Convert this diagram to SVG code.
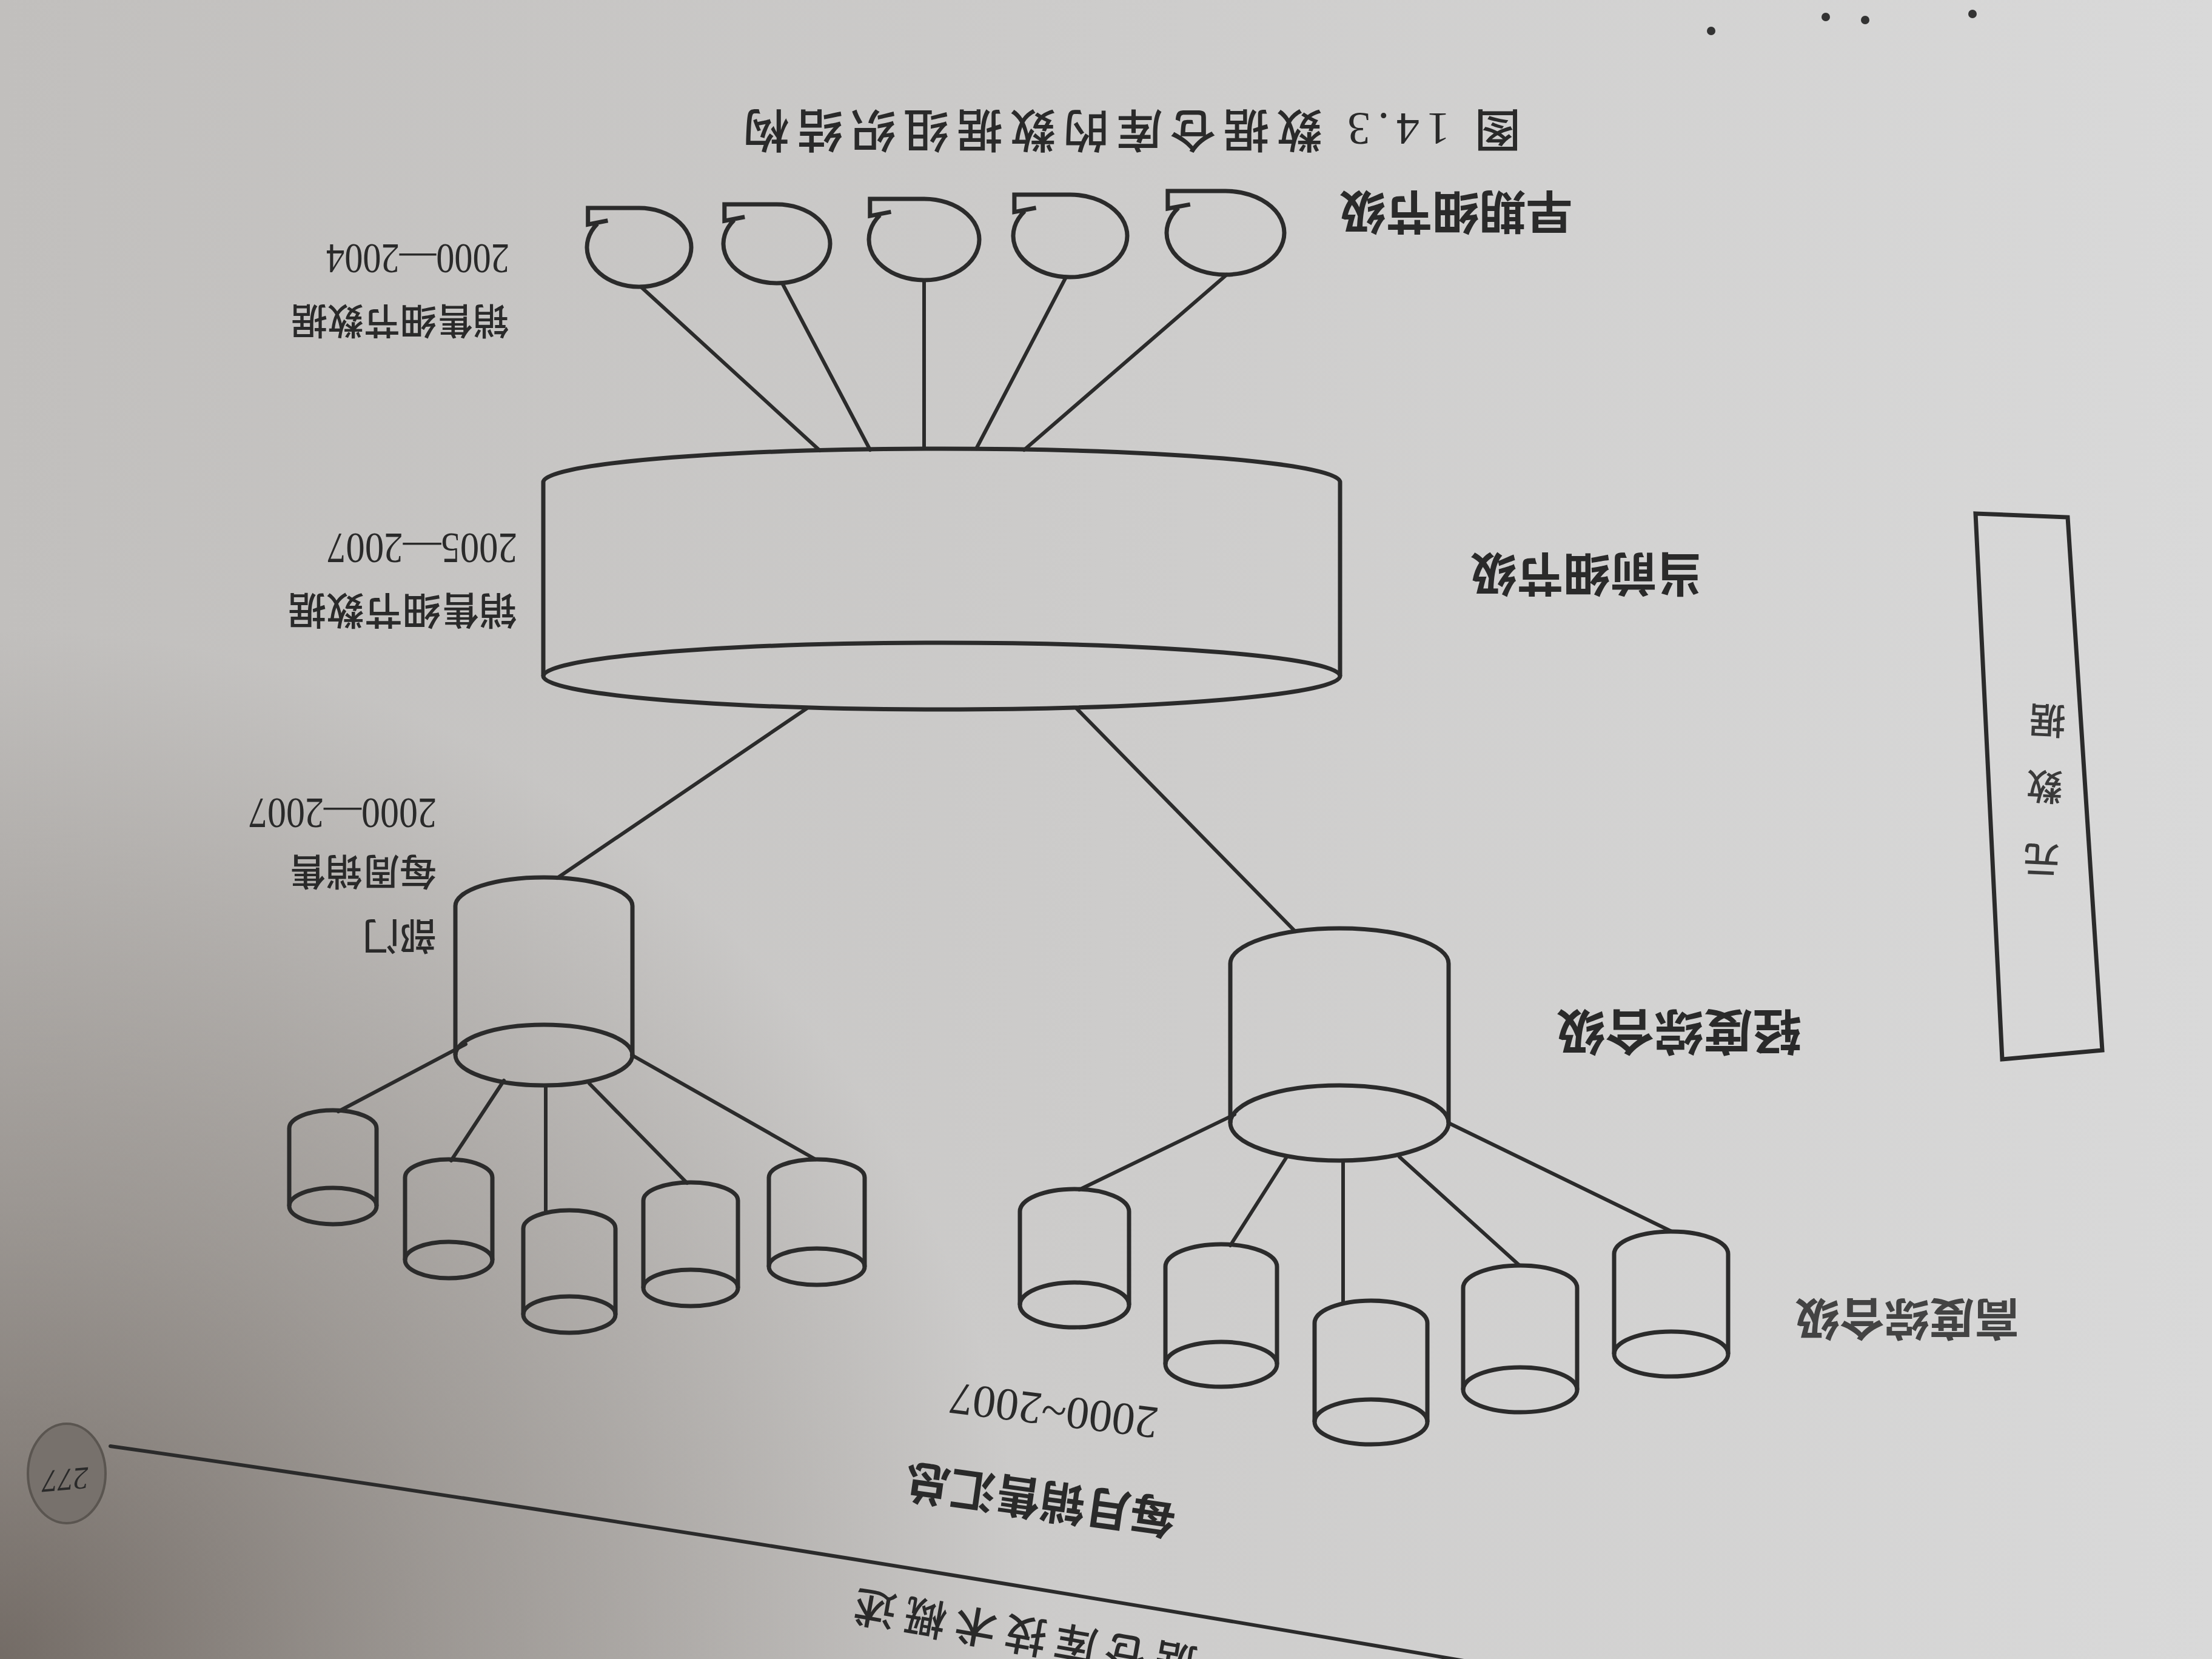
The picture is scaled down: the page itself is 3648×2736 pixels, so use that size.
<svg xmlns="http://www.w3.org/2000/svg" width="3648" height="2736" viewBox="0 0 3648 2736">
<defs>
<linearGradient id="bg" x1="0" y1="0" x2="1" y2="0">
<stop offset="0" stop-color="#c1bfbd"/>
<stop offset="0.5" stop-color="#cdcccb"/>
<stop offset="1" stop-color="#d9d9d9"/>
</linearGradient>
<radialGradient id="shade" gradientUnits="userSpaceOnUse" cx="0" cy="2736" r="1700">
<stop offset="0" stop-color="#6f6761" stop-opacity="0.95"/>
<stop offset="0.45" stop-color="#7e7771" stop-opacity="0.55"/>
<stop offset="1" stop-color="#7e7771" stop-opacity="0"/>
</radialGradient>
</defs>
<style>
.ln{stroke:#2b2b2b;stroke-width:6;fill:none;stroke-linecap:round}
.cy{stroke:#2b2b2b;stroke-width:7;fill:none;stroke-linejoin:miter}
.cjk{font-family:"Noto Sans CJK SC","Noto Sans CJK JP",sans-serif;fill:#2a2a2a;font-weight:500}
.lvl{font-weight:700}
.num{font-family:"Liberation Serif","DejaVu Serif",serif;fill:#2a2a2a}
</style>
<rect width="3648" height="2736" fill="url(#bg)"/>
<rect width="3648" height="2736" fill="url(#shade)"/>

<g id="caption">
<text class="cjk" transform="rotate(180 1867 214)" x="1867" y="241" font-size="76" text-anchor="middle" textLength="1282" lengthAdjust="spacing">图 <tspan class="num">14.3</tspan>  数据仓库的数据组织结构</text>
</g>

<g id="connectors">
<line class="ln" x1="1057" y1="473" x2="1352" y2="743"/>
<line class="ln" x1="1290" y1="467" x2="1435" y2="742"/>
<line class="ln" x1="1524" y1="462" x2="1524" y2="740"/>
<line class="ln" x1="1758" y1="457" x2="1610" y2="740"/>
<line class="ln" x1="2023" y1="453" x2="1689" y2="742"/>
<line class="ln" x1="1331" y1="1168" x2="919" y2="1448"/>
<line class="ln" x1="1775" y1="1168" x2="2136" y2="1536"/>
<line class="ln" x1="768" y1="1722" x2="558" y2="1833"/>
<line class="ln" x1="831" y1="1782" x2="744" y2="1914"/>
<line class="ln" x1="900" y1="1790" x2="900" y2="2000"/>
<line class="ln" x1="972" y1="1787" x2="1133" y2="1951"/>
<line class="ln" x1="1042" y1="1740" x2="1345" y2="1912"/>
<line class="ln" x1="2036" y1="1838" x2="1780" y2="1962"/>
<line class="ln" x1="2122" y1="1908" x2="2029" y2="2054"/>
<line class="ln" x1="2215" y1="1914" x2="2215" y2="2149"/>
<line class="ln" x1="2308" y1="1908" x2="2506" y2="2087"/>
<line class="ln" x1="2389" y1="1852" x2="2757" y2="2031"/>
</g>

<g id="tape1"><path class="cy" d="M985.2 369 A86 65 0 1 0 1054 343 L969.7 343 L969.7 370.3 L1002.4 363.8"/></g>
<g id="tape2"><path class="cy" d="M1210.6 363 A88 65 0 1 0 1281 337 L1194.8 337 L1194.8 364.3 L1228.2 357.8"/></g>
<g id="tape3"><path class="cy" d="M1451.2 354.8 A91 67 0 1 0 1524 328 L1434.8 328 L1434.8 356.1 L1469.4 349.4"/></g>
<g id="tape4"><path class="cy" d="M1689.8 348.2 A94 68 0 1 0 1765 321 L1672.9 321 L1672.9 349.6 L1708.6 342.8"/></g>
<g id="tape5"><path class="cy" d="M1943.4 342.6 A97 69 0 1 0 2021 315 L1925.9 315 L1925.9 344 L1962.8 337.1"/></g>

<g id="lbl-early">
<text class="cjk lvl" transform="rotate(180 2401 349)" x="2401" y="377" font-size="77" text-anchor="middle">早期细节级</text>
<text class="cjk" transform="rotate(180 840 529)" x="840" y="551" font-size="60">销售细节数据</text>
<text class="num" transform="rotate(180 840 427)" x="840" y="451" font-size="70" textLength="302" lengthAdjust="spacingAndGlyphs">2000—2004</text>
</g>

<g id="current">
<path class="cy" d="M896 795 A657 55 0 0 1 2210 795 L2210 1115 M896 795 L896 1115"/>
<ellipse class="cy" cx="1553" cy="1115" rx="657" ry="55"/>
</g>
<g id="lbl-current">
<text class="cjk lvl" transform="rotate(180 2617 946)" x="2617" y="974" font-size="77" text-anchor="middle">当前细节级</text>
<text class="cjk" transform="rotate(180 853 1007)" x="853" y="1030" font-size="63">销售细节数据</text>
<text class="num" transform="rotate(180 853 905)" x="853" y="930" font-size="72" textLength="314" lengthAdjust="spacingAndGlyphs">2005—2007</text>
</g>

<g id="metadata">
<polygon class="cy" points="3258,847 3410,853 3467,1732 3302,1747"/>
<g transform="rotate(182.5 3372 1300)" class="cjk" font-size="60" text-anchor="middle">
<text x="3372" y="1204" fill="#3a3a3a">元</text>
<text x="3372" y="1325" fill="#3a3a3a">数</text>
<text x="3372" y="1434" fill="#3a3a3a">据</text>
</g>
</g>

<g id="dept">
<path class="cy" d="M751 1494 A146 47 0 0 1 1043 1494 L1043 1740 M751 1494 L751 1740"/>
<ellipse class="cy" cx="897" cy="1740" rx="146" ry="50"/>
</g>
<g id="lbl-dept">
<text class="cjk" transform="rotate(180 720 1543)" x="720" y="1565" font-size="61">部门</text>
<text class="cjk" transform="rotate(180 720 1437)" x="720" y="1459" font-size="61">每周销售</text>
<text class="num" transform="rotate(180 720 1342)" x="720" y="1367" font-size="72" textLength="310" lengthAdjust="spacingAndGlyphs">2000—2007</text>
</g>

<g id="light">
<path class="cy" d="M2029 1589 A180 58 0 0 1 2389 1589 L2389 1852 M2029 1589 L2029 1852"/>
<ellipse class="cy" cx="2209" cy="1852" rx="180" ry="62"/>
</g>
<g id="lbl-light">
<text class="cjk lvl" transform="rotate(180 2769 1701)" x="2769" y="1730" font-size="81" text-anchor="middle">轻度综合级</text>
</g>

<g id="s1"><path class="cy" d="M477 1861 A72 30 0 0 1 621 1861 L621 1989 M477 1861 L477 1989"/><ellipse class="cy" cx="549" cy="1989" rx="72" ry="30"/></g>
<g id="s2"><path class="cy" d="M668 1942 A72 30 0 0 1 812 1942 L812 2078 M668 1942 L668 2078"/><ellipse class="cy" cx="740" cy="2078" rx="72" ry="30"/></g>
<g id="s3"><path class="cy" d="M863 2026 A76 30 0 0 1 1015 2026 L1015 2168 M863 2026 L863 2168"/><ellipse class="cy" cx="939" cy="2168" rx="76" ry="30"/></g>
<g id="s4"><path class="cy" d="M1061 1980 A78 30 0 0 1 1217 1980 L1217 2124 M1061 1980 L1061 2124"/><ellipse class="cy" cx="1139" cy="2124" rx="78" ry="30"/></g>
<g id="s5"><path class="cy" d="M1268 1942 A79 30 0 0 1 1426 1942 L1426 2089 M1268 1942 L1268 2089"/><ellipse class="cy" cx="1347" cy="2089" rx="79" ry="30"/></g>

<g id="t1"><path class="cy" d="M1682 1998 A90 37 0 0 1 1862 1998 L1862 2152 M1682 1998 L1682 2152"/><ellipse class="cy" cx="1772" cy="2152" rx="90" ry="37"/></g>
<g id="t2"><path class="cy" d="M1922 2089 A92 37 0 0 1 2106 2089 L2106 2250 M1922 2089 L1922 2250"/><ellipse class="cy" cx="2014" cy="2250" rx="92" ry="37"/></g>
<g id="t3"><path class="cy" d="M2168 2182 A93 37 0 0 1 2354 2182 L2354 2345 M2168 2182 L2168 2345"/><ellipse class="cy" cx="2261" cy="2345" rx="93" ry="37"/></g>
<g id="t4"><path class="cy" d="M2413 2124 A94 37 0 0 1 2601 2124 L2601 2292 M2413 2124 L2413 2292"/><ellipse class="cy" cx="2507" cy="2292" rx="94" ry="37"/></g>
<g id="t5"><path class="cy" d="M2662 2068 A94 37 0 0 1 2850 2068 L2850 2233 M2662 2068 L2662 2233"/><ellipse class="cy" cx="2756" cy="2233" rx="94" ry="37"/></g>

<g id="lbl-high">
<text class="cjk lvl" transform="rotate(180 3145 2175)" x="3145" y="2202" font-size="74" text-anchor="middle" fill="#4e4e4e" opacity="0.85">高度综合级</text>
</g>
<g id="lbl-monthly">
<text class="num" transform="rotate(187 1738 2327)" x="1738" y="2353" font-size="76" text-anchor="middle">2000~2007</text>
<text class="cjk lvl" transform="rotate(188 1716 2473)" x="1716" y="2500" font-size="75" text-anchor="middle">每月销售汇总</text>
</g>

<g id="page">
<path class="ln" stroke-width="5" d="M182 2385 Q1200 2530 2420 2740"/>
<ellipse cx="110" cy="2430" rx="64" ry="82" fill="#77716c" stroke="#5a5550" stroke-width="4"/>
<text class="num" transform="rotate(175 108 2440)" x="108" y="2457" font-size="52" text-anchor="middle" font-style="italic" fill="#1e1e1e">277</text>
<text class="cjk" transform="rotate(190 1395 2645)" x="1395" y="2671" font-size="70" text-anchor="end" letter-spacing="14">据仓库技术概述</text>
<circle cx="2822" cy="51" r="7" fill="#333"/>
<circle cx="3011" cy="28" r="7" fill="#333"/>
<circle cx="3076" cy="33" r="7" fill="#333"/>
<circle cx="3253" cy="23" r="7" fill="#333"/>
</g>
</svg>
